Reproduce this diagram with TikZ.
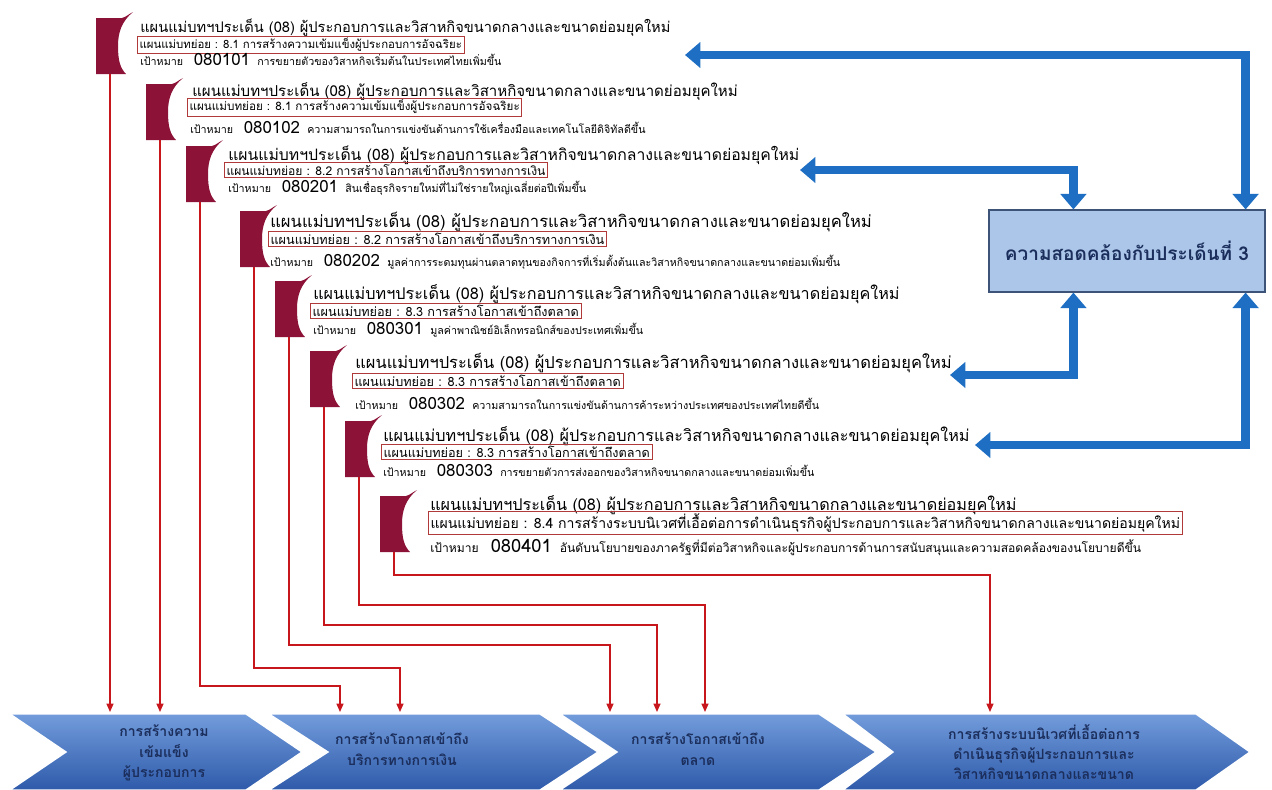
\documentclass[tikz,border=0pt]{standalone}
\usepackage{fontspec}
\setmainfont[Script=Thai]{Loma}
\usetikzlibrary{arrows.meta,calc}

\definecolor{flagred}{HTML}{8C1238}
\definecolor{boxred}{HTML}{B03A3A}
\definecolor{linered}{HTML}{C8161D}
\definecolor{flowblue}{HTML}{1E6FC3}
\definecolor{alignfill}{HTML}{ABC6E8}
\definecolor{alignline}{HTML}{3D5478}
\definecolor{chevtop}{HTML}{729CDB}
\definecolor{chevbot}{HTML}{2E5AAA}
\definecolor{chevtext}{HTML}{1B2E5C}

\tikzset{
  flag/.pic={\fill[flagred] (0,6) -- (26,6) .. controls (30,5) and (33,2) .. (37,0)
    .. controls (26,9) and (22,20) .. (22,34) .. controls (22,48) and (24,56) .. (30,62)
    -- (0,62) -- cycle;},
  title/.style={anchor=west,inner sep=0pt,font=\fontsize{#1}{13}\selectfont},
  subplan/.style={anchor=west,draw=boxred,line width=0.6pt,inner sep=1.5pt,font=\fontsize{#1}{10}\selectfont},
  goal/.style={anchor=west,inner sep=0pt,font=\fontsize{7.6}{9}\selectfont},
  redarrow/.style={draw=linered,line width=0.9pt,-{Triangle[width=5pt,length=6pt]}},
  flowarrow/.style={draw=flowblue,line width=6.3pt,{Triangle[width=18pt,length=11pt]}-{Triangle[width=18pt,length=11pt]}},
  chevlabel/.style={align=center,text=chevtext,font=\fontsize{10}{14.5}\selectfont\bfseries},
}
\newcommand{\code}[1]{{\fontsize{12}{13}\selectfont #1}}

\begin{document}
\begin{tikzpicture}[x=0.025cm,y=-0.025cm]
\useasboundingbox (0,0) rectangle (1272,790);
\fill[white] (0,0) rectangle (1272,790);
%
% Plan 080101
\pic at (96,12) {flag};
\coordinate (foot1) at (110,74);
\node[title=10.4] (plan1) at (140,28) {แผนแม่บทฯประเด็น (08) ผู้ประกอบการและวิสาหกิจขนาดกลางและขนาดย่อมยุคใหม่};
\node[subplan=8.1] (sub1) at (137,45) {แผนแม่บทย่อย : 8.1 การสร้างความเข้มแข็งผู้ประกอบการอัจฉริยะ};
\node[goal] (goal1) at (140,59) {เป้าหมาย\quad\code{080101}\ \ การขยายตัวของวิสาหกิจเริ่มต้นในประเทศไทยเพิ่มขึ้น};
% Plan 080102
\pic at (146,78) {flag};
\coordinate (foot2) at (160,140);
\node[title=10.7] (plan2) at (192,92) {แผนแม่บทฯประเด็น (08) ผู้ประกอบการและวิสาหกิจขนาดกลางและขนาดย่อมยุคใหม่};
\node[subplan=8.3] (sub2) at (187,107) {แผนแม่บทย่อย : 8.1 การสร้างความเข้มแข็งผู้ประกอบการอัจฉริยะ};
\node[goal] (goal2) at (190,127) {เป้าหมาย\quad\code{080102}\ \ ความสามารถในการแข่งขันด้านการใช้เครื่องมือและเทคโนโลยีดิจิทัลดีขึ้น};
% Plan 080201
\pic at (186,140) {flag};
\coordinate (foot3) at (200,202);
\node[title=11.2] (plan3) at (228,155) {แผนแม่บทฯประเด็น (08) ผู้ประกอบการและวิสาหกิจขนาดกลางและขนาดย่อมยุคใหม่};
\node[subplan=8.6] (sub3) at (224,170) {แผนแม่บทย่อย : 8.2 การสร้างโอกาสเข้าถึงบริการทางการเงิน};
\node[goal] (goal3) at (228,188) {เป้าหมาย\quad\code{080201}\ \ สินเชื่อธุรกิจรายใหม่ที่ไม่ใช่รายใหญ่เฉลี่ยต่อปีเพิ่มขึ้น};
% Plan 080202
\pic at (240,205) {flag};
\coordinate (foot4) at (254,267);
\node[title=11.8] (plan4) at (270,222) {แผนแม่บทฯประเด็น (08) ผู้ประกอบการและวิสาหกิจขนาดกลางและขนาดย่อมยุคใหม่};
\node[subplan=9] (sub4) at (268,239) {แผนแม่บทย่อย : 8.2 การสร้างโอกาสเข้าถึงบริการทางการเงิน};
\node[goal] (goal4) at (270,262) {เป้าหมาย\quad\code{080202}\ \ มูลค่าการระดมทุนผ่านตลาดทุนของกิจการที่เริ่มตั้งต้นและวิสาหกิจขนาดกลางและขนาดย่อมเพิ่มขึ้น};
% Plan 080301
\pic at (275,275) {flag};
\coordinate (foot5) at (289,337);
\node[title=11.5] (plan5) at (313,294) {แผนแม่บทฯประเด็น (08) ผู้ประกอบการและวิสาหกิจขนาดกลางและขนาดย่อมยุคใหม่};
\node[subplan=9] (sub5) at (310,311) {แผนแม่บทย่อย : 8.3 การสร้างโอกาสเข้าถึงตลาด};
\node[goal] (goal5) at (313,330) {เป้าหมาย\quad\code{080301}\ \ มูลค่าพาณิชย์อิเล็กทรอนิกส์ของประเทศเพิ่มขึ้น};
% Plan 080302
\pic at (310,345) {flag};
\coordinate (foot6) at (324,407);
\node[title=11.7] (plan6) at (355,363) {แผนแม่บทฯประเด็น (08) ผู้ประกอบการและวิสาหกิจขนาดกลางและขนาดย่อมยุคใหม่};
\node[subplan=9] (sub6) at (352,381) {แผนแม่บทย่อย : 8.3 การสร้างโอกาสเข้าถึงตลาด};
\node[goal] (goal6) at (355,403) {เป้าหมาย\quad\code{080302}\ \ ความสามารถในการแข่งขันด้านการค้าระหว่างประเทศของประเทศไทยดีขึ้น};
% Plan 080303
\pic at (345,415) {flag};
\coordinate (foot7) at (359,477);
\node[title=11.5] (plan7) at (383,436) {แผนแม่บทฯประเด็น (08) ผู้ประกอบการและวิสาหกิจขนาดกลางและขนาดย่อมยุคใหม่};
\node[subplan=9] (sub7) at (381,452) {แผนแม่บทย่อย : 8.3 การสร้างโอกาสเข้าถึงตลาด};
\node[goal] (goal7) at (383,470) {เป้าหมาย\quad\code{080303}\ \ การขยายตัวการส่งออกของวิสาหกิจขนาดกลางและขนาดย่อมเพิ่มขึ้น};
% Plan 080401
\pic at (380,490) {flag};
\coordinate (foot8) at (394,552);
\node[title=11.5] (plan8) at (430,505) {แผนแม่บทฯประเด็น (08) ผู้ประกอบการและวิสาหกิจขนาดกลางและขนาดย่อมยุคใหม่};
\node[subplan=10] (sub8) at (428,523) {แผนแม่บทย่อย : 8.4 การสร้างระบบนิเวศที่เอื้อต่อการดำเนินธุรกิจผู้ประกอบการและวิสาหกิจขนาดกลางและขนาดย่อมยุคใหม่};
\node[goal,font=\fontsize{8.6}{10}\selectfont] (goal8) at (430,548) {เป้าหมาย\quad{\fontsize{13}{14}\selectfont 080401}\ \ อันดับนโยบายของภาครัฐที่มีต่อวิสาหกิจและผู้ประกอบการด้านการสนับสนุนและความสอดคล้องของนโยบายดีขึ้น};

% Alignment box
\node[draw=alignline,fill=alignfill,line width=0.8pt,minimum width=6.9cm,minimum height=2.05cm,
  text=chevtext,font=\fontsize{13.5}{15}\selectfont\bfseries] (align3) at (1127,251) {ความสอดคล้องกับประเด็นที่ 3};
\coordinate (back1) at (685,55);
\coordinate (back2) at (800,170);
\coordinate (back3) at (950,375);
\coordinate (back4) at (975,445);
\draw[flowarrow] (back1) -| ([xshift=-0.5cm]align3.north east);
\draw[flowarrow] (back2) -| ([xshift=2.125cm]align3.north west);
\draw[flowarrow] ([xshift=2.125cm]align3.south west) |- (back3);
\draw[flowarrow] ([xshift=-0.5cm]align3.south east) |- (back4);

% Chevrons
\shade[top color=chevtop,bottom color=chevbot,draw=white,line width=1pt]
  (10,714) -- (246,714) -- (302,752) -- (246,790) -- (10,790) -- (66,752) -- cycle;
\shade[top color=chevtop,bottom color=chevbot,draw=white,line width=1pt]
  (269,714) -- (540,714) -- (598,752) -- (540,790) -- (269,790) -- (328,752) -- cycle;
\shade[top color=chevtop,bottom color=chevbot,draw=white,line width=1pt]
  (560,714) -- (819,714) -- (876,752) -- (819,790) -- (560,790) -- (617,752) -- cycle;
\shade[top color=chevtop,bottom color=chevbot,draw=white,line width=1pt]
  (843,714) -- (1196,714) -- (1250,752) -- (1196,790) -- (843,790) -- (893,752) -- cycle;
\node[chevlabel] (chev1) at (164,753) {การสร้างความ\\เข้มแข็ง\\ผู้ประกอบการ};
\node[chevlabel] (chev2) at (402,749) {การสร้างโอกาสเข้าถึง\\บริการทางการเงิน};
\node[chevlabel] (chev3) at (698,749) {การสร้างโอกาสเข้าถึง\\ตลาด};
\node[chevlabel] (chev4) at (1044,752) {การสร้างระบบนิเวศที่เอื้อต่อการ\\ดำเนินธุรกิจผู้ประกอบการและ\\วิสาหกิจขนาดกลางและขนาด};

% Links to chevrons
\coordinate (hit1) at (110,712);
\coordinate (hit2) at (160,712);
\coordinate (hit3) at (340,712);
\coordinate (hit4) at (400,712);
\coordinate (hit5) at (610,712);
\coordinate (hit6) at (657,712);
\coordinate (hit7) at (705,712);
\coordinate (hit8) at (990,712);
\draw[redarrow] (foot1) -- (hit1);
\draw[redarrow] (foot2) -- (hit2);
\draw[redarrow] (foot3) |- (340,686) -- (hit3);
\draw[redarrow] (foot4) |- (400,668) -- (hit4);
\draw[redarrow] (foot5) |- (610,645) -- (hit5);
\draw[redarrow] (foot6) |- (657,625) -- (hit6);
\draw[redarrow] (foot7) |- (705,605) -- (hit7);
\draw[redarrow] (foot8) |- (990,575) -- (hit8);
\end{tikzpicture}
\end{document}
